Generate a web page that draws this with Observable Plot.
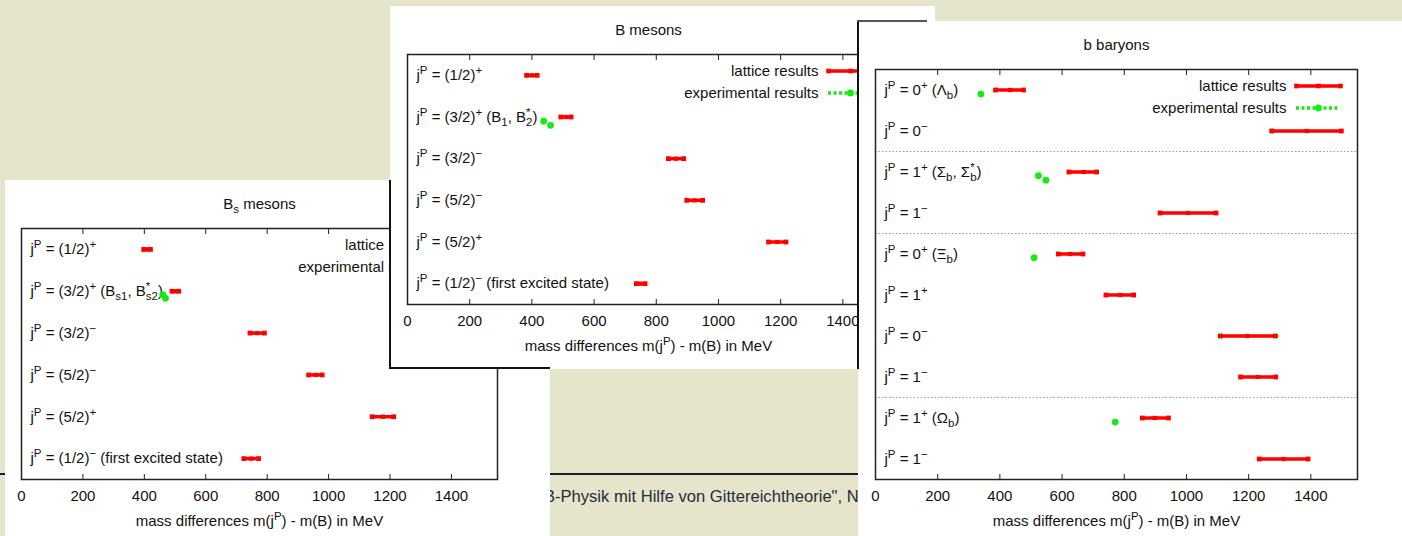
<!DOCTYPE html>
<html><head><meta charset="utf-8">
<script src="https://cdn.jsdelivr.net/npm/d3@7"></script>
<script src="https://cdn.jsdelivr.net/npm/@observablehq/plot@0.6"></script>
<style>
html,body{margin:0;padding:0;}
body{width:1402px;height:536px;background:#e5e5cb;position:relative;overflow:hidden;font-family:"Liberation Sans",Arial,sans-serif;}
.panel{position:absolute;background:#fff;overflow:hidden;}
.line{position:absolute;background:#111;}
#footer-text{position:absolute;left:538px;top:488px;font-size:16.6px;line-height:18px;color:#2a2a3c;white-space:nowrap;}
</style></head><body>
<div class="line" style="left:0;top:473px;width:1402px;height:2px;background:#1c1c38"></div>
<div id="footer-text">"B-Physik mit Hilfe von Gittereichtheorie", N...</div>
<div id="bs" class="panel" style="left:5px;top:180px;width:545px;height:356px;z-index:1"></div>
<div id="bm" class="panel" style="left:390px;top:6px;width:545px;height:363px;z-index:2"></div>
<div class="line" style="left:389px;top:180px;width:2px;height:189px;z-index:2"></div>
<div class="line" style="left:389px;top:367px;width:161px;height:2px;z-index:2"></div>
<div id="bb" class="panel" style="left:858px;top:21px;width:544px;height:515px;z-index:3"></div>
<div class="line" style="left:857px;top:20px;width:2px;height:349px;z-index:3"></div>
<div class="line" style="left:857px;top:20px;width:70px;height:2px;z-index:3;background:#555"></div>
<script>
// ---------- shared ----------
const xTicks = [0, 200, 400, 600, 800, 1000, 1200, 1400];
const xMax = 1550;
const xLabel = "mass differences m(j^{P}) - m(B) in MeV";
const legendNames = ["lattice results", "experimental results"];

// ---------- B_s mesons ----------
const bsLabels = [
  "j^{P} = (1/2)^{+}",
  "j^{P} = (3/2)^{+} (B_{s1}, B&{*}{s2})",
  "j^{P} = (3/2)^{−}",
  "j^{P} = (5/2)^{−}",
  "j^{P} = (5/2)^{+}",
  "j^{P} = (1/2)^{−} (first excited state)"
];
const bsLattice = [409, 501, 768, 958, 1177, 748];
const bsLow     = [398, 490, 744, 935, 1142, 724];
const bsHigh    = [420, 512, 791, 979, 1212, 772];
const bsExpRow   = [1, 1];
const bsExpValue = [460, 469];
const bsExpShift = [0.08, 0.17];

// ---------- B mesons ----------
const bLabels = [
  "j^{P} = (1/2)^{+}",
  "j^{P} = (3/2)^{+} (B_{1}, B&{*}{2})",
  "j^{P} = (3/2)^{−}",
  "j^{P} = (5/2)^{−}",
  "j^{P} = (5/2)^{+}",
  "j^{P} = (1/2)^{−} (first excited state)"
];
const bLattice = [401, 510, 863, 923, 1189, 749];
const bLow     = [383, 493, 839, 898, 1161, 736];
const bHigh    = [417, 526, 888, 949, 1217, 764];
const bExpRow   = [1, 1];
const bExpValue = [438, 460];
const bExpShift = [0.1, 0.2];

// ---------- b baryons ----------
const byLabels = [
  "j^{P} = 0^{+} (Λ_{b})",
  "j^{P} = 0^{−}",
  "j^{P} = 1^{+} (Σ_{b}, Σ&{*}{b})",
  "j^{P} = 1^{−}",
  "j^{P} = 0^{+} (Ξ_{b})",
  "j^{P} = 1^{+}",
  "j^{P} = 0^{−}",
  "j^{P} = 1^{−}",
  "j^{P} = 1^{+} (Ω_{b})",
  "j^{P} = 1^{−}"
];
const byLattice = [433, 1387, 669, 1005, 626, 787, 1196, 1229, 898, 1312];
const byLow     = [386, 1274, 622, 915, 588, 741, 1109, 1174, 858, 1234];
const byHigh    = [476, 1498, 711, 1095, 667, 830, 1286, 1287, 942, 1391];
const byExpRow   = [0, 2, 2, 4, 8];
const byExpValue = [339, 524, 548, 510, 771];
const byExpShift = [0.1, 0.09, 0.2, 0.09, 0.1];
const bySeparators = [2, 4, 8];

// ---------- rich text (sup/sub) ----------
const NS = "http://www.w3.org/2000/svg";
const SUP = 6, SUB = 4, SMALL = 11.5;
function rich(el, s) {
  el.textContent = "";
  let shift = 0;
  const re = /\^\{([^}]*)\}|_\{([^}]*)\}|&\{([^}]*)\}\{([^}]*)\}|([^^_&]+)/g;
  const add = (txt, target, size, dx) => {
    const t = document.createElementNS(NS, "tspan");
    t.textContent = txt;
    const dy = target - shift;
    if (dy) t.setAttribute("dy", dy);
    shift = target;
    if (size) t.setAttribute("font-size", size);
    if (dx) t.setAttribute("dx", dx);
    el.appendChild(t);
    return t;
  };
  let m;
  while ((m = re.exec(s))) {
    if (m[1] != null) add(m[1], -SUP, SMALL);
    else if (m[2] != null) add(m[2], SUB, SMALL);
    else if (m[3] != null) {
      const t = add(m[3], -SUP, SMALL);
      const w = t.getComputedTextLength();
      add(m[4], SUB, SMALL, -w);
    } else add(m[5], 0);
  }
}

function panel({el, width, height, margin, title, labels, lattice, low, high, expRow, expValue, expShift, separators = []}) {
  const [mt, mr, mb, ml] = margin;
  const n = labels.length;
  const frameW = width - ml - mr, frameH = height - mt - mb;
  const rowH = frameH / n;
  const pxX = px => px * xMax / frameW;
  const pxY = px => px / rowH;
  const rows = labels.map((label, i) => ({label, y: i + 0.5, c: lattice[i], lo: low[i], hi: high[i]}));
  const ends = rows.flatMap(d => [{x: d.lo, y: d.y}, {x: d.hi, y: d.y}]);
  const exps = expRow.map((r, i) => ({x: expValue[i], y: r + 0.5 + expShift[i]}));
  const leg = legendNames.map((name, i) => ({name, y: pxY(i ? 38.5 : 16.5)}));
  const lx1 = pxX(421), lx2 = pxX(465), lxc = pxX(443), lt = pxX(411);
  const red = "#ff0000", green = "#14ec14", ink = "#111";
  const svg = Plot.plot({
    width, height,
    marginTop: mt, marginRight: mr, marginBottom: mb, marginLeft: ml,
    style: {fontFamily: '"Liberation Sans", Arial, sans-serif', fontSize: "15px", color: ink, background: "white", overflow: "visible"},
    x: {domain: [0, xMax]},
    y: {domain: [n, 0], axis: null},
    marks: [
      Plot.ruleY(separators, {y: d => d, stroke: "#9a9a9a", strokeDasharray: "1.5,2", strokeWidth: 1}),
      Plot.frame({stroke: "#222", strokeWidth: 1.5}),
      Plot.axisX(xTicks, {anchor: "bottom", tickSize: -5, tickPadding: 15.7, tickFormat: d => String(d), label: null, fontSize: 15, stroke: "#222"}),
      Plot.axisX(xTicks, {anchor: "top", tickSize: -5, tickFormat: () => "", label: null, stroke: "#222"}),
      Plot.text(rows, {text: "label", y: "y", frameAnchor: "left", lineAnchor: "middle", dx: 9, textAnchor: "start", fontSize: 15}),
      Plot.text([title], {text: d => d, frameAnchor: "top", lineAnchor: "middle", dy: -24, fontSize: 15}),
      Plot.text([xLabel], {text: d => d, frameAnchor: "bottom", lineAnchor: "middle", dy: 42, fontSize: 15}),
      Plot.ruleY(rows, {y: "y", x1: "lo", x2: "hi", stroke: red, strokeWidth: 3.5}),
      Plot.dot(ends, {x: "x", y: "y", symbol: "square", r: 2.7, fill: red}),
      Plot.dot(rows, {x: "c", y: "y", symbol: "square", r: 2.4, fill: red}),
      Plot.dot(exps, {x: "x", y: "y", r: 3.4, fill: green}),
      // legend
      Plot.text(leg, {text: "name", x: lt, y: "y", textAnchor: "end", fontSize: 15}),
      Plot.ruleY([leg[0]], {y: "y", x1: lx1, x2: lx2, stroke: red, strokeWidth: 3.5}),
      Plot.dot([lx1, lx2, lxc], {x: d => d, y: leg[0].y, symbol: "square", r: 2.6, fill: red}),
      Plot.ruleY([leg[1]], {y: "y", x1: lx1, x2: lx2, stroke: green, strokeWidth: 3.5, strokeDasharray: "3,2.5"}),
      Plot.dot([lxc], {x: d => d, y: leg[1].y, r: 3.4, fill: green})
    ]
  });
  el.appendChild(svg);
  svg.querySelectorAll("text").forEach(t => {
    const s = t.textContent;
    if (/[\^_&]\{/.test(s)) rich(t, s);
  });
}

panel({el: document.getElementById("bs"), width: 545, height: 356, margin: [48, 53, 57, 16],
  title: "B_{s} mesons", labels: bsLabels, lattice: bsLattice, low: bsLow, high: bsHigh,
  expRow: bsExpRow, expValue: bsExpValue, expShift: bsExpShift});
panel({el: document.getElementById("bm"), width: 545, height: 363, margin: [48, 46, 65, 17],
  title: "B mesons", labels: bLabels, lattice: bLattice, low: bLow, high: bHigh,
  expRow: bExpRow, expValue: bExpValue, expShift: bExpShift});
panel({el: document.getElementById("bb"), width: 544, height: 515, margin: [48, 45, 57, 17],
  title: "b baryons", labels: byLabels, lattice: byLattice, low: byLow, high: byHigh,
  expRow: byExpRow, expValue: byExpValue, expShift: byExpShift, separators: bySeparators});
</script>
</body></html>
